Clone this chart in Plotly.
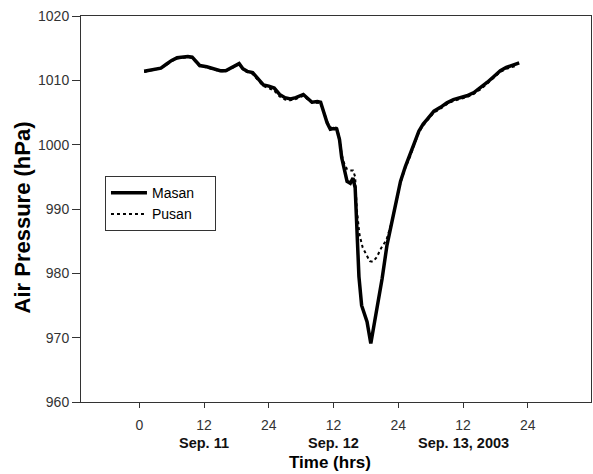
import plotly.graph_objects as go

# Hours since 00 LST Sep. 11, 2003
masan_hours = [0.9, 2.0, 3.0, 4.0, 5.0, 6.0, 7.0, 8.0, 9.0, 9.8, 10.5, 11.2, 12.5, 14.0, 15.0,
               16.0, 17.0, 18.0, 18.5, 19.2, 20.0, 21.0, 22.0, 23.0, 24.0, 25.0, 26.0, 27.0,
               28.0, 29.0, 30.4, 31.2, 32.0, 33.0, 33.6, 34.2, 34.8, 35.4, 36.0, 36.6, 37.1,
               37.5, 37.9, 38.5, 39.1, 39.6, 40.0, 40.3, 40.7, 41.2, 41.7, 42.2, 42.9, 43.7,
               44.4, 45.0, 45.9, 46.8, 47.6, 48.4, 49.3, 50.2, 51.0, 51.8, 52.6, 53.3, 54.6,
               55.8, 57.0, 58.2, 59.5, 60.7, 62.0, 63.2, 64.5, 65.7, 66.9, 68.0, 69.0, 70.0, 70.4]
masan_hpa = [1011.4, 1011.6, 1011.8, 1011.9, 1012.5, 1013.1, 1013.5, 1013.6, 1013.7, 1013.6,
             1012.9, 1012.3, 1012.1, 1011.7, 1011.5, 1011.5, 1011.9, 1012.4, 1012.6, 1011.8,
             1011.4, 1011.2, 1010.3, 1009.3, 1009.1, 1008.8, 1007.8, 1007.3, 1007.1, 1007.3,
             1007.8, 1007.2, 1006.6, 1006.7, 1006.6, 1005.0, 1003.4, 1002.4, 1002.5, 1002.4,
             1000.8, 998.0, 996.5, 994.3, 994.0, 994.8, 993.3, 986.0, 979.5, 975.0, 973.6,
             972.5, 969.1, 973.0, 976.5, 979.2, 984.4, 988.0, 991.5, 994.3, 996.6, 998.4,
             1000.3, 1002.1, 1003.2, 1003.9, 1005.2, 1005.8, 1006.5, 1007.0, 1007.3, 1007.6,
             1008.1, 1008.8, 1009.7, 1010.6, 1011.5, 1012.0, 1012.3, 1012.6, 1012.7]

pusan_hours = [0.9, 2.0, 3.0, 4.0, 5.0, 6.0, 7.0, 8.0, 9.0, 9.8, 10.5, 11.2, 12.5, 14.0, 15.0,
               16.0, 17.0, 18.0, 18.5, 19.2, 20.0, 21.0, 22.0, 23.0, 24.0, 25.0, 26.0, 27.0,
               28.0, 29.0, 30.4, 31.2, 32.0, 33.0, 33.6, 34.2, 34.8, 35.4, 36.0, 36.6, 37.1,
               37.5, 38.0, 38.5, 39.0, 39.6, 40.0, 40.3, 40.8, 41.4, 42.0, 42.7, 43.3, 44.0,
               44.8, 45.8, 46.8, 47.6, 48.4, 49.3, 50.2, 51.0, 51.8, 52.6, 53.3, 54.6,
               55.8, 57.0, 58.2, 59.5, 60.7, 62.0, 63.2, 64.5, 65.7, 66.9, 68.0, 69.0, 70.0]
pusan_hpa = [1011.3, 1011.5, 1011.7, 1011.9, 1012.4, 1013.0, 1013.4, 1013.5, 1013.6, 1013.5,
             1012.8, 1012.2, 1012.0, 1011.6, 1011.4, 1011.4, 1011.8, 1012.3, 1012.5, 1011.7,
             1011.3, 1011.0, 1010.1, 1009.1, 1008.8, 1008.4, 1007.5, 1007.0, 1006.9, 1007.1,
             1007.6, 1007.0, 1006.5, 1006.5, 1006.4, 1005.1, 1003.6, 1002.6, 1002.7, 1002.6,
             1001.0, 998.5, 997.0, 996.2, 996.0, 996.0, 995.0, 990.0, 986.0, 984.0, 983.0,
             981.9, 981.8, 982.5, 983.9, 985.2, 988.0, 991.3, 994.1, 996.4, 998.2,
             1000.1, 1001.9, 1003.0, 1003.7, 1005.0, 1005.6, 1006.3, 1006.8, 1007.1, 1007.4,
             1007.9, 1008.6, 1009.5, 1010.4, 1011.3, 1011.8, 1012.1, 1012.3]

tick_hours = [0, 12, 24, 36, 48, 60, 72]
tick_text = ["0", "12", "24", "12", "24", "12", "24"]
day_hours = [12, 36, 60]
day_labels = ["Sep. 11", "Sep. 12", "Sep. 13, 2003"]

FONT = "Liberation Sans, Arial, sans-serif"

fig = go.Figure()
fig.add_trace(go.Scatter(x=masan_hours, y=masan_hpa, mode="lines",
                         name="Masan&nbsp;&nbsp;&nbsp;&nbsp;",
                         line=dict(color="black", width=3.5)))
fig.add_trace(go.Scatter(x=pusan_hours, y=pusan_hpa, mode="lines", name="Pusan",
                         line=dict(color="black", width=2, dash="3px,3px")))

for h, lab in zip(day_hours, day_labels):
    fig.add_annotation(x=h, y=-0.106, xref="x", yref="paper", text="<b>" + lab + "</b>",
                       showarrow=False, font=dict(family=FONT, size=14.5, color="#111"),
                       yanchor="middle")

fig.add_annotation(x=0.488, y=-0.158, xref="paper", yref="paper", text="<b>Time (hrs)</b>",
                   showarrow=False, font=dict(family=FONT, size=17, color="black"),
                   yanchor="middle")
fig.add_annotation(x=-0.115, y=0.479, xref="paper", yref="paper",
                   text="<b>Air Pressure (hPa)</b>", textangle=-90, showarrow=False,
                   font=dict(family=FONT, size=22, color="black"),
                   xanchor="center", yanchor="middle")

fig.update_xaxes(range=[-10.8, 83.7], tickvals=tick_hours, ticktext=tick_text,
                 ticks="outside", ticklen=5, tickcolor="#333", showline=True,
                 linecolor="#333", linewidth=1, mirror=True, showgrid=False, zeroline=False,
                 tickfont=dict(family=FONT, size=14, color="#333"), ticklabelstandoff=5)
fig.update_yaxes(range=[960, 1020], dtick=10, ticks="outside", ticklen=8, tickcolor="#333",
                 showline=True, linecolor="#333", linewidth=1, mirror=True, showgrid=False,
                 zeroline=False, tickfont=dict(family=FONT, size=14, color="#333"))

fig.update_layout(
    width=593, height=474,
    margin=dict(l=81, r=2, t=16, b=72),
    plot_bgcolor="white", paper_bgcolor="white",
    showlegend=True,
    legend=dict(x=0.047, y=0.585, xanchor="left", yanchor="top",
                bordercolor="#333", borderwidth=1, bgcolor="white",
                font=dict(family=FONT, size=14, color="black"),
                tracegroupgap=0, itemwidth=36),
)

fig.write_html("out.html")
